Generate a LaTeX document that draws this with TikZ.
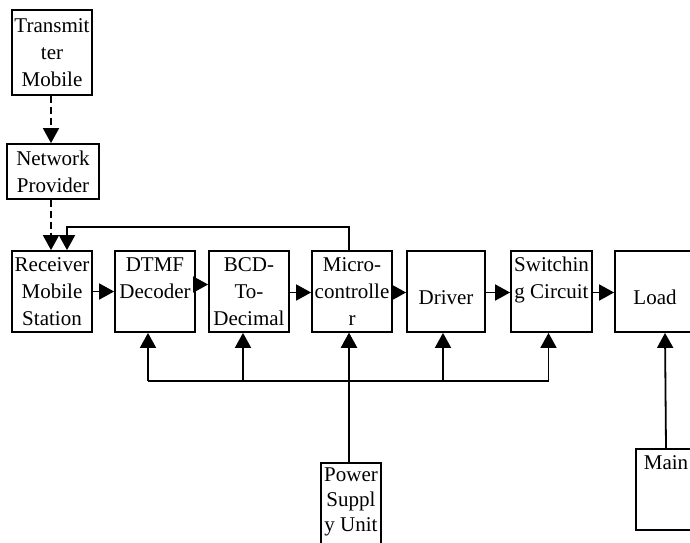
\documentclass[tikz,border=0pt]{standalone}
\usepackage{fontspec}
\setmainfont{Liberation Serif}
\usetikzlibrary{arrows.meta}
\tikzset{
	blk/.style = {draw, line width=1.8pt, inner sep=0pt, align=center,
		font=\fontsize{21}{27}\selectfont},
	arr/.style = {line width=1.8pt, -{Triangle[length=15pt, width=16pt]}},
	dsh/.style = {arr, dash pattern=on 7pt off 4pt}
}

\begin{document}
\begin{tikzpicture}[x=1pt, y=-1pt]
					\useasboundingbox (0,0) rectangle (690,542);
					\clip (0,0) rectangle (690,542);
					% ====== Blocks ========
					\node[blk, minimum width=80, minimum height=85] (tx) at (52,52.5) {Transmit\\ter\\Mobile};
					\node[blk, minimum width=92, minimum height=55] (np) at (53,171.5) {Network\\Provider};
					\node[blk, minimum width=80, minimum height=81] (rx) at (52,291.5) {Receiver\\Mobile\\Station};
					\node[blk, minimum width=80, minimum height=81] (dtmf) at (155,291.5) {DTMF\\Decoder\\\mbox{}};
					\node[blk, minimum width=80, minimum height=81] (bcd) at (249,291.5) {BCD-\\To-\\Decimal};
					\node[blk, minimum width=80, minimum height=81] (mc) at (352,291.5) {Micro-\\controlle\\r};
					\node[blk, minimum width=78, minimum height=81] (drv) at (446,291.5) {\mbox{}\\Driver};
					\node[blk, minimum width=81, minimum height=81] (sw) at (551.5,291.5) {Switchin\\g Circuit\\\mbox{}};
					\node[blk, minimum width=80, minimum height=81] (load) at (655,291.5) {\mbox{}\\Load};
					\node[blk, minimum width=60, minimum height=88, font=\fontsize{21}{25}\selectfont] (psu) at (351,507) {Power\\Suppl\\y Unit\\[-10pt]\mbox{}};
					\node[blk, minimum width=60, minimum height=81] (main) at (666,489.5) {Main\\\mbox{}\\\mbox{}};
					% ====== Signal path ========
					\draw[dsh] ([xshift=-1pt]tx.south) -- ([xshift=-1pt]tx.south |- np.north);
					\draw[dsh] ([xshift=-2pt]np.south) -- ([xshift=-1pt]rx.north);
					\coordinate (fb) at (0,227);
					\coordinate (rxin) at ([xshift=15pt]rx.north);
					\draw[arr] ([xshift=-3pt]mc.north) |- (rxin |- fb) -- (rxin);
					\draw[arr] (rx) -- (dtmf);
					\draw[arr] ([yshift=7pt]dtmf.east) -- ([yshift=7pt]bcd.west);
					\draw[arr] ([yshift=-1pt]bcd.east) -- ([yshift=-1pt]mc.west);
					\draw[arr] ([yshift=-1pt]mc.east) -- ([yshift=-1pt]drv.west);
					\draw[arr] ([yshift=-1pt]drv.east) -- ([yshift=-1pt]sw.west);
					\draw[arr] ([yshift=-1pt]sw.east) -- ([yshift=-1pt]load.west);
					% ====== Supply bus ========
					\coordinate (bus) at (0,381);
					\coordinate (dtmfin) at ([xshift=-7pt]dtmf.south);
					\coordinate (bcdin) at ([xshift=-6pt]bcd.south);
					\coordinate (mcin) at ([xshift=-3pt]mc.south);
					\coordinate (drvin) at ([xshift=-3pt]drv.south);
					\coordinate (swin) at ([xshift=-3pt]sw.south);
					\foreach \b in {dtmfin, bcdin, mcin, drvin, swin}
						\draw[arr] (\b |- bus) -- (\b);
					\draw[line width=1.8pt] (dtmfin |- bus) -- (swin |- bus);
					\draw[arr] ([xshift=-2pt]psu.north) -- (mcin);
					\draw[arr] (main.north) -- ([xshift=10pt]load.south);
				\end{tikzpicture}
\end{document}
